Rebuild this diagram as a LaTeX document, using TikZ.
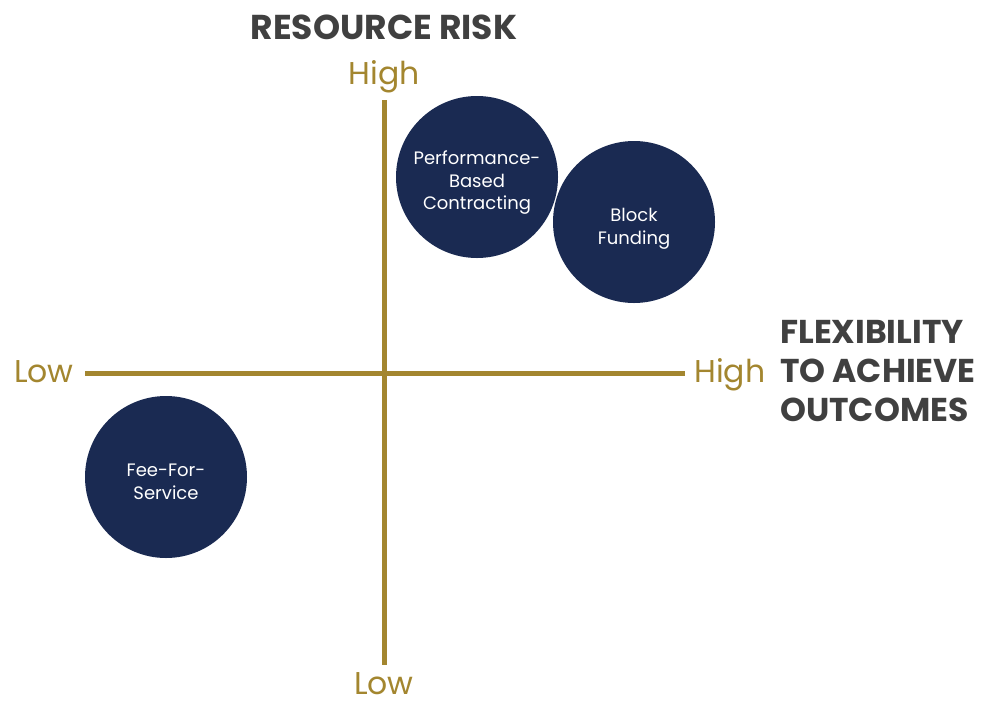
\documentclass[tikz,border=0pt]{standalone}
\usepackage{fontspec}
\setmainfont{Poppins}
\definecolor{gold}{HTML}{A3862F}
\definecolor{navy}{HTML}{1A2A52}
\definecolor{darkgray}{HTML}{404040}
\begin{document}
\begin{tikzpicture}[x=1pt,y=-1pt,
  axis/.style={draw=gold,line width=5pt},
  bubble/.style={circle,fill=navy,minimum size=162pt,inner sep=0pt},
  bubbletext/.style={text=white,align=center,inner sep=0pt,font=\fontsize{18}{22.5}\selectfont},
  axlabel/.style={text=gold,font=\fontsize{31.5}{34}\selectfont,inner sep=0pt},
  title/.style={text=darkgray,font=\fontsize{34.5}{39}\selectfont\bfseries,inner sep=0pt}]
\useasboundingbox (0,0) rectangle (982,702);
\coordinate (vt) at (384,100);
\coordinate (vb) at (384,665);
\coordinate (hl) at (85,373);
\coordinate (hr) at (685,373);
\draw[axis] (vt) -- (vb);
\draw[axis] (hl) -- (hr);
\node[axlabel,anchor=base] (hightop) at (384,84) {High};
\node[axlabel,anchor=base] (lowbot) at (384,694) {Low};
\node[axlabel,anchor=base east] (lowleft) at (74,382) {Low};
\node[axlabel,anchor=base west] (highright) at (694,382) {High};
\node[title,anchor=base] (rr) at (384,39) {RESOURCE RISK};
\node[title,anchor=west,align=left,font=\fontsize{33}{39}\selectfont\bfseries] (flex) at (780,371) {FLEXIBILITY\\TO ACHIEVE\\OUTCOMES};
\node[bubble] (pbc) at (477,177) {};
\node[bubble] (bf) at (634,222) {};
\node[bubble] (ffs) at (166,477) {};
\node[bubbletext] (pbct) at ([yshift=-6pt]pbc.center) {Performance-\\Based\\Contracting};
\node[bubbletext] (bft) at ([yshift=-7pt]bf.center) {Block\\Funding};
\node[bubbletext] (ffst) at ([yshift=-5pt]ffs.center) {Fee-For-\\Service};
\end{tikzpicture}
\end{document}
